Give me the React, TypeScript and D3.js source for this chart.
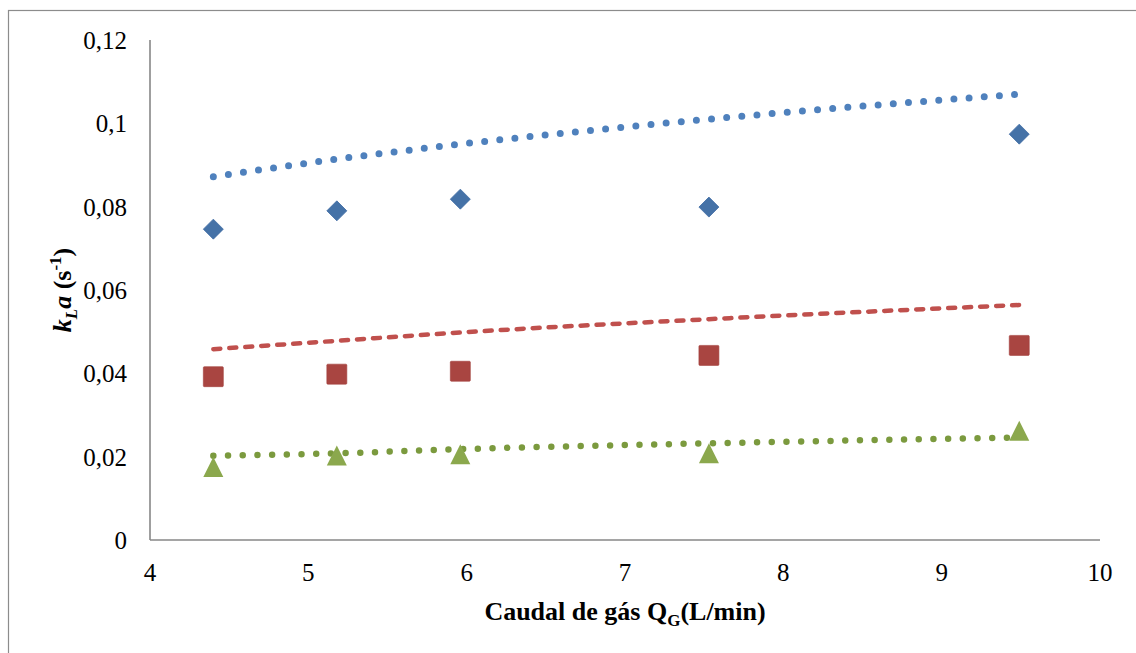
import React from "react";
import * as d3 from "d3";

const xValues = [4.4, 5.18, 5.96, 7.53, 9.49];
const blueObs = [0.0746, 0.079, 0.0818, 0.0799, 0.0974];
const redObs = [0.0392, 0.0398, 0.0405, 0.0443, 0.0467];
const greenObs = [0.0175, 0.0203, 0.0206, 0.0208, 0.0262];
const blueModel = [0.0872, 0.0914, 0.095, 0.101, 0.107];
const redModel = [0.0458, 0.0478, 0.0498, 0.053, 0.0564];
const greenModel = [0.0202, 0.0208, 0.0218, 0.0232, 0.0246];
const xTicks = [4, 5, 6, 7, 8, 9, 10];
const yTicks = [0, 0.02, 0.04, 0.06, 0.08, 0.1, 0.12];
const yTickLabels = ["0", "0,02", "0,04", "0,06", "0,08", "0,1", "0,12"];

const W = 1136;
const H = 653;
const left = 150, right = 1100, top = 40, bottom = 540;

export default function App() {
  const x = d3.scaleLinear().domain([4, 10]).range([left, right]);
  const y = d3.scaleLinear().domain([0, 0.12]).range([bottom, top]);
  const line = d3
    .line<[number, number]>()
    .x((d) => x(d[0]))
    .y((d) => y(d[1]))
    .curve(d3.curveMonotoneX);
  const pts = (vals: number[]) => xValues.map((v, i) => [v, vals[i]] as [number, number]);
  const font = "Liberation Serif, Tinos, Times New Roman, DejaVu Serif, serif";
  const r = 10;
  return (
    <svg
      width={W}
      height={H}
      style={{ position: "absolute", left: 0, top: 0, display: "block", background: "#fff" }}
    >
      <rect x={8.5} y={10.5} width={W + 10} height={H + 10} fill="#fff" stroke="#8c8c8c" strokeWidth={1.2} />
      <line x1={left} x2={left} y1={top} y2={bottom} stroke="#878787" strokeWidth={1.6} />
      <line x1={left} x2={right} y1={bottom} y2={bottom} stroke="#878787" strokeWidth={1.6} />
      {yTicks.map((t, i) => (
        <text key={"y" + i} x={127} y={y(t) + 9} textAnchor="end" style={{ fontFamily: font }} fontSize={25} fill="#000">
          {yTickLabels[i]}
        </text>
      ))}
      {xTicks.map((t) => (
        <text key={"x" + t} x={x(t)} y={581} textAnchor="middle" style={{ fontFamily: font }} fontSize={25} fill="#000">
          {t}
        </text>
      ))}
      <path d={line(pts(blueModel)) || ""} fill="none" stroke="#4F81BD" strokeWidth={7} strokeLinecap="round" strokeDasharray="0 15.2" />
      <path d={line(pts(redModel)) || ""} fill="none" stroke="#C0504D" strokeWidth={4.5} strokeLinecap="round" strokeDasharray="7 9" />
      <path d={line(pts(greenModel)) || ""} fill="none" stroke="#7B9A3E" strokeWidth={6.5} strokeLinecap="round" strokeDasharray="0 14.7" />
      {xValues.map((v, i) => {
        const cx = x(v), cy = y(blueObs[i]);
        return (
          <path key={"b" + i} d={`M${cx},${cy - r}L${cx + r},${cy}L${cx},${cy + r}L${cx - r},${cy}Z`} fill="#4572A7" stroke="#3f6ba3" strokeWidth={0.8} />
        );
      })}
      {xValues.map((v, i) => {
        const cx = x(v), cy = y(redObs[i]);
        return <rect key={"r" + i} x={cx - r} y={cy - r} width={2 * r} height={2 * r} rx={1} fill="#A94541" stroke="#a3403c" strokeWidth={0.6} />;
      })}
      {xValues.map((v, i) => {
        const cx = x(v), cy = y(greenObs[i]);
        return <path key={"g" + i} d={`M${cx},${cy - r}L${cx + r},${cy + r}L${cx - r},${cy + r}Z`} fill="#8BA84D" />;
      })}
      <text x={625} y={620} textAnchor="middle" style={{ fontFamily: font }} fontSize={26} fontWeight="bold" fill="#000">
        Caudal de gás Q<tspan fontSize={17} dy={6}>G</tspan>
        <tspan dy={-6}>(L/min)</tspan>
      </text>
      <text transform={`translate(71,${(top + bottom) / 2}) rotate(-90)`} textAnchor="middle" style={{ fontFamily: font }} fontSize={26} fontWeight="bold" fill="#000">
        <tspan fontStyle="italic">k</tspan>
        <tspan fontStyle="italic" fontSize={17} dy={6}>L</tspan>
        <tspan fontStyle="italic" dy={-6}>a</tspan>
        <tspan> (s</tspan>
        <tspan fontSize={17} dy={-10}>-1</tspan>
        <tspan dy={10}>)</tspan>
      </text>
    </svg>
  );
}
